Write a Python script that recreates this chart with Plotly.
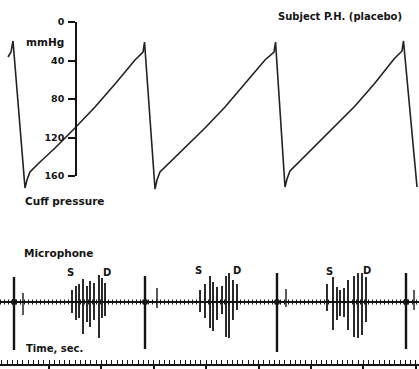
import plotly.graph_objects as go

W, H = 419, 369

# ---------------- data ----------------
# Cuff pressure trace (time in s, pressure in mmHg)
pressure_t = [0.218, 0.275, 0.313, 0.542, 0.580, 0.637, 0.828, 1.115, 1.496, 1.878, 2.260, 2.641,
              2.794, 2.823, 3.023, 3.061, 3.118, 3.309, 3.595, 3.977, 4.359, 4.740, 5.122, 5.294,
              5.323, 5.504, 5.542, 5.599, 5.790, 6.076, 6.458, 6.840, 7.221, 7.584, 7.737, 7.765,
              8.023]
pressure_mmHg = [36.4, 31.2, 19.7, 172.5, 164.2, 155.8, 145.5, 130.9, 110.1, 88.3, 64.4, 39.5,
                 31.2, 20.8, 173.5, 164.2, 155.8, 145.5, 130.9, 110.1, 88.3, 64.4, 39.5, 31.2,
                 20.8, 171.4, 163.1, 154.8, 144.4, 129.9, 109.1, 87.3, 63.4, 38.4, 30.1, 19.7,
                 171.4]
pressure_ticks = [0, 40, 80, 120, 160]
pressure_ticklabels = ["0", "40", "80", "120", "160"]

# Microphone: Korotkoff sound spikes (time s, top / bottom amplitude, arbitrary units)
sound_t = [1.439, 1.515, 1.573, 1.649, 1.725, 1.782, 1.859, 1.954, 2.011, 2.069,
           3.882, 3.977, 4.073, 4.130, 4.206, 4.302, 4.378, 4.435, 4.511, 4.588,
           6.305, 6.420, 6.496, 6.553, 6.630, 6.706, 6.821, 6.897, 6.973, 7.050]
sound_top = [12, 16, 18, 23, 16, 21, 19, 27, 24, 19,
             12, 18, 26, 20, 15, 16, 26, 29, 22, 18,
             18, 25, 15, 12, 14, 22, 26, 29, 29, 25]
sound_bot = [-11, -18, -16, -32, -20, -25, -18, -36, -16, -14,
             -10, -16, -26, -29, -18, -12, -35, -36, -18, -8,
             -9, -28, -18, -14, -15, -28, -35, -36, -33, -20]

# Large artefacts at cuff re-inflation and the small echoes after them
artefact_t = [0.332, 2.832, 5.351, 7.813]
artefact_top = [25, 26, 29, 29]
artefact_bot = [-48, -47, -50, -47]
echo_t = [0.504, 3.061, 5.523, 7.966]
echo_top = [9, 14, 13, 12]
echo_bot = [-13, -6, -5, -8]

# S / D markers (time s, amplitude)
marker_labels = ["S", "D", "S", "D", "S", "D"]
marker_t = [1.401, 2.107, 3.844, 4.588, 6.344, 7.069]
marker_a = [30, 30, 32, 32, 31, 32]

time_range = [0.0649, 8.061]

# ---------------- helpers ----------------
def py(px):
    return 1 - px / H

def segs(ts, tops, bots):
    xs, ys = [], []
    for t, a, b in zip(ts, tops, bots):
        xs += [t, t, None]
        ys += [a, b, None]
    return xs, ys

INK = "#141414"
fig = go.Figure()

# pressure curve
fig.add_trace(go.Scatter(x=pressure_t, y=pressure_mmHg, mode="lines",
                         line=dict(color="#222", width=1.6), xaxis="x", yaxis="y",
                         hoverinfo="skip", showlegend=False))
# dummy trace to draw the pressure scale axis
fig.add_trace(go.Scatter(x=[None], y=[None], xaxis="x", yaxis="y2", showlegend=False))

# microphone baseline + texture
fig.add_trace(go.Scatter(x=time_range, y=[0, 0], mode="lines",
                         line=dict(color=INK, width=2.2), xaxis="x", yaxis="y3",
                         hoverinfo="skip", showlegend=False))
fig.add_trace(go.Scatter(x=time_range, y=[0, 0], mode="lines",
                         line=dict(color=INK, width=5, dash="1px,3px"), xaxis="x", yaxis="y3",
                         hoverinfo="skip", showlegend=False))
sx, sy = segs(sound_t, sound_top, sound_bot)
fig.add_trace(go.Scatter(x=sx, y=sy, mode="lines", line=dict(color=INK, width=1.8),
                         xaxis="x", yaxis="y3", hoverinfo="skip", showlegend=False))
ax_, ay_ = segs(artefact_t, artefact_top, artefact_bot)
fig.add_trace(go.Scatter(x=ax_, y=ay_, mode="lines", line=dict(color=INK, width=2.4),
                         xaxis="x", yaxis="y3", hoverinfo="skip", showlegend=False))
fig.add_trace(go.Scatter(x=artefact_t, y=[0] * len(artefact_t), mode="markers",
                         marker=dict(color=INK, size=6), xaxis="x", yaxis="y3",
                         hoverinfo="skip", showlegend=False))
ex, ey = segs(echo_t, echo_top, echo_bot)
fig.add_trace(go.Scatter(x=ex, y=ey, mode="lines", line=dict(color=INK, width=1.4),
                         xaxis="x", yaxis="y3", hoverinfo="skip", showlegend=False))
# dummy trace for time-marker axis
fig.add_trace(go.Scatter(x=[None], y=[None], xaxis="x", yaxis="y4", showlegend=False))

FONT = "DejaVu Sans"
annotations = []
def label(text, xpx, ypx, size=10, xanchor="left"):
    annotations.append(dict(text="<b>%s</b>" % text, x=xpx / W, y=py(ypx), xref="paper",
                            yref="paper", xanchor=xanchor, yanchor="middle", showarrow=False,
                            font=dict(family=FONT, size=size, color=INK)))

label("Subject P.H. (placebo)", 404, 16, size=10, xanchor="right")
label("mmHg", 24, 42, size=10.5)
label("Cuff pressure", 23, 201, size=10.5)
label("Microphone", 22, 253, size=10.5)
label("Time, sec.", 24, 348, size=10)

for txt, t, a in zip(marker_labels, marker_t, marker_a):
    annotations.append(dict(text="<b>%s</b>" % txt, x=t, y=a, xref="x", yref="y3",
                            showarrow=False, xanchor="center", yanchor="middle",
                            font=dict(family=FONT, size=10, color=INK)))

hidden = dict(visible=False, showgrid=False, zeroline=False, fixedrange=True, automargin=False)

fig.update_layout(
    template="none",
    width=W, height=H, autosize=False,
    margin=dict(l=0, r=0, t=0, b=0, pad=0, autoexpand=False),
    paper_bgcolor="white", plot_bgcolor="rgba(0,0,0,0)",
    showlegend=False,
    annotations=annotations,
    xaxis=dict(range=time_range, domain=[0, 1], anchor="y4", showline=True, linecolor=INK,
               linewidth=1.5, ticks="outside", ticklen=6, tickwidth=1.5, tickcolor=INK,
               tick0=0, dtick=1, showticklabels=False, showgrid=False, zeroline=False,
               automargin=False,
               minor=dict(ticks="inside", ticklen=4, tickwidth=1.1, tickcolor=INK,
                          tick0=0, dtick=0.1, showgrid=False)),
    yaxis=dict(domain=[py(215), 1], range=[200.52, -22.857], anchor="x", **hidden),
    yaxis2=dict(domain=[py(176), py(22)], range=[160, 0], anchor="free", position=76 / W,
                showline=True, linecolor=INK, linewidth=1.5, ticks="outside", ticklen=7,
                tickwidth=1.5, tickcolor=INK, tickvals=pressure_ticks,
                ticktext=pressure_ticklabels, ticklabelstandoff=2, automargin=False,
                tickfont=dict(family=FONT, size=9.5, color=INK, weight="bold"),
                showgrid=False, zeroline=False),
    yaxis3=dict(domain=[py(355), py(230)], range=[-53, 72], anchor="x", **hidden),
    yaxis4=dict(domain=[py(364), py(356)], range=[0, 1], anchor="x", **hidden),
)

fig.write_html("out.html", config={"displayModeBar": False},
               post_script="document.body.style.margin='0';document.body.style.padding='0';"
                           "document.body.style.overflow='hidden';")
